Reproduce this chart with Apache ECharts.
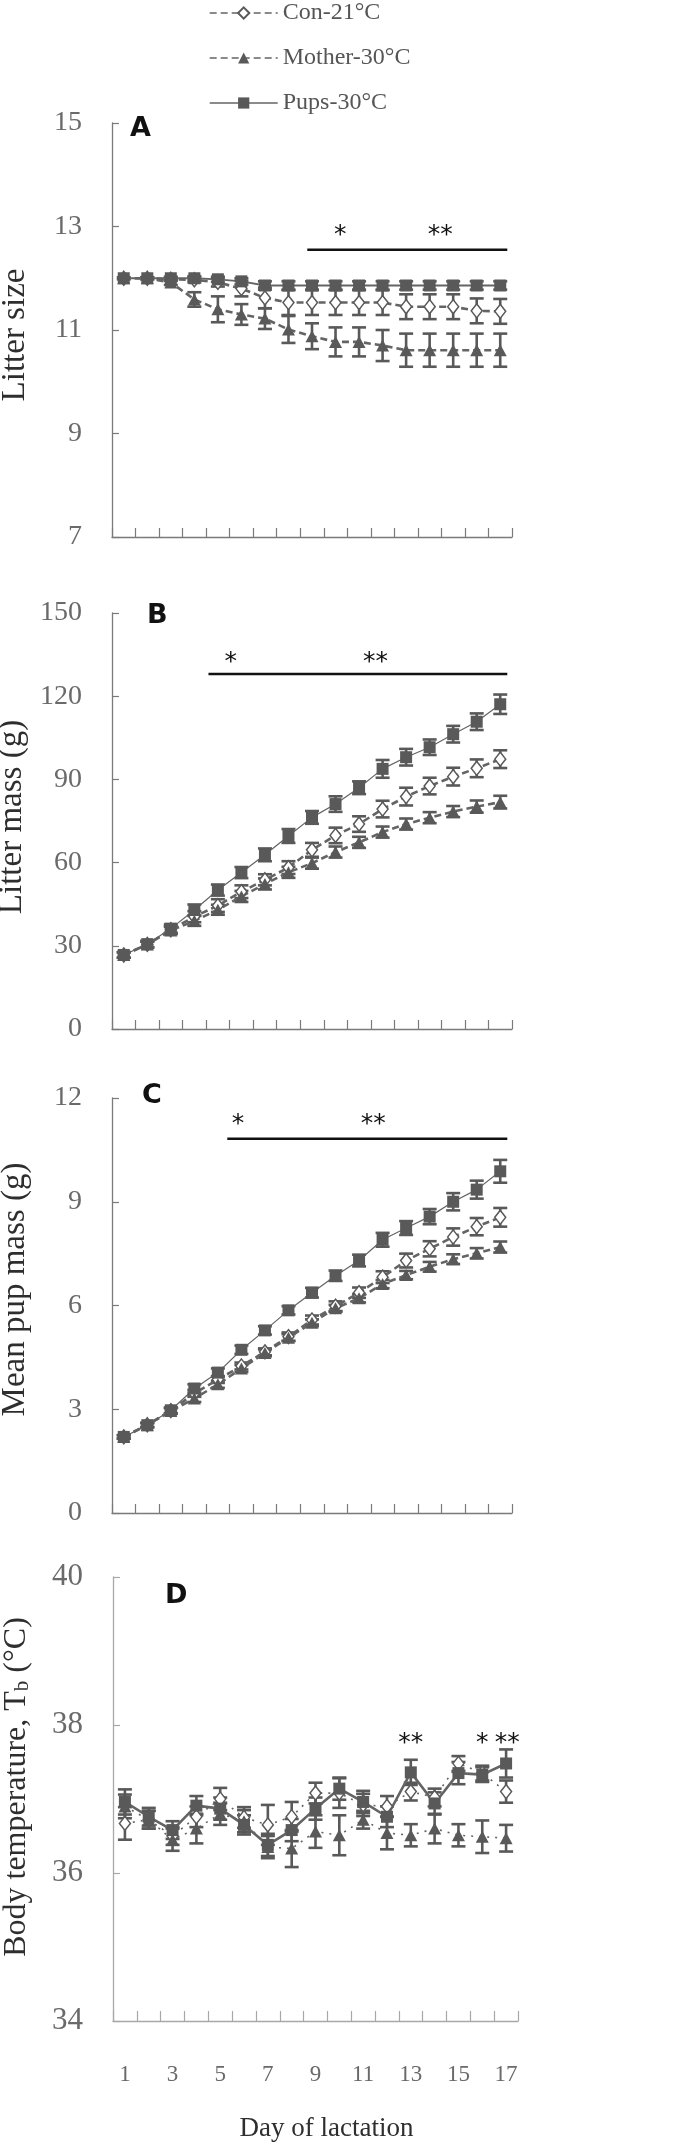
<!DOCTYPE html>
<html><head><meta charset="utf-8">
<script src="https://cdn.jsdelivr.net/npm/echarts@6/dist/echarts.min.js"></script>
<style>html,body{margin:0;padding:0;background:#fff}#c{width:675px;height:2151px}</style>
</head><body><div id="c"></div>
<script>
// ---------- data ----------
const days = ['1','2','3','4','5','6','7','8','9','10','11','12','13','14','15','16','17'];
const seriesNames = ['Con-21°C', 'Mother-30°C', 'Pups-30°C'];

// A: Litter size
const litterSizeCon      = [12.00,12.00,11.98,11.97,11.92,11.80,11.62,11.53,11.53,11.53,11.53,11.53,11.45,11.45,11.45,11.37,11.36];
const litterSizeConSE    = [0,0,0.03,0.05,0.08,0.15,0.20,0.24,0.24,0.24,0.24,0.24,0.24,0.24,0.24,0.24,0.24];
const litterSizeMother   = [12.00,12.00,11.92,11.59,11.40,11.30,11.22,11.01,10.88,10.77,10.77,10.70,10.61,10.61,10.61,10.61,10.61];
const litterSizeMotherSE = [0,0.02,0.05,0.14,0.25,0.20,0.20,0.26,0.25,0.28,0.28,0.30,0.32,0.32,0.32,0.32,0.32];
const litterSizePups     = [12.00,12.00,12.00,12.00,11.98,11.94,11.86,11.86,11.86,11.86,11.86,11.86,11.86,11.86,11.86,11.86,11.86];
const litterSizePupsSE   = [0.02,0.02,0.03,0.04,0.05,0.06,0.08,0.08,0.08,0.08,0.08,0.08,0.08,0.08,0.08,0.08,0.08];

// B: Litter mass (g)
const litterMassCon      = [26.7,30.5,35.8,40.5,44.5,49.5,53.8,58.2,64.6,69.8,73.9,79.3,83.8,87.6,91.0,94.0,97.3];
const litterMassConSE    = [1.0,1.0,1.3,2.0,2.3,2.3,2.0,2.3,2.5,2.8,2.8,3.0,3.2,3.0,3.2,3.2,3.2];
const litterMassMother   = [26.7,30.5,35.5,39.0,43.0,47.8,52.3,56.5,59.8,63.8,67.3,71.0,73.9,76.2,78.4,80.2,81.8];
const litterMassMotherSE = [1.0,1.0,1.3,1.8,1.8,2.0,2.0,2.0,2.0,2.0,2.0,2.0,2.0,2.0,2.0,2.2,2.3];
const litterMassPups     = [26.7,30.6,36.2,42.9,50.1,56.4,62.8,69.6,76.3,81.1,87.0,93.8,98.0,101.6,106.3,110.8,117.1];
const litterMassPupsSE   = [1.0,1.2,1.5,2.0,2.0,2.0,2.3,2.5,2.3,2.8,2.3,3.2,3.0,2.8,3.0,3.0,3.5];

// C: Mean pup mass (g)
const pupMassCon      = [2.20,2.55,2.96,3.46,3.86,4.25,4.66,5.10,5.58,5.98,6.37,6.82,7.30,7.64,7.98,8.28,8.55];
const pupMassConSE    = [0.05,0.06,0.08,0.10,0.10,0.10,0.10,0.12,0.13,0.14,0.15,0.17,0.20,0.22,0.25,0.25,0.27];
const pupMassMother   = [2.20,2.54,2.95,3.31,3.72,4.18,4.63,5.07,5.50,5.92,6.21,6.62,6.88,7.12,7.34,7.51,7.69];
const pupMassMotherSE = [0.05,0.06,0.08,0.10,0.10,0.10,0.10,0.10,0.10,0.10,0.12,0.12,0.12,0.14,0.14,0.15,0.16];
const pupMassPups     = [2.20,2.54,2.97,3.60,4.06,4.72,5.28,5.86,6.37,6.86,7.30,7.90,8.24,8.57,9.00,9.35,9.88];
const pupMassPupsSE   = [0.05,0.06,0.08,0.12,0.12,0.12,0.12,0.12,0.14,0.15,0.17,0.20,0.20,0.22,0.25,0.26,0.33];

// D: Body temperature (°C)
const tbCon      = [36.67,36.72,36.50,36.76,37.00,36.75,36.65,36.76,37.08,37.08,36.92,36.90,37.10,37.02,37.48,37.35,37.10];
const tbConSE    = [0.22,0.12,0.12,0.14,0.15,0.14,0.27,0.20,0.14,0.20,0.15,0.14,0.12,0.12,0.10,0.10,0.15];
const tbMother   = [36.90,36.72,36.45,36.60,36.80,36.70,36.35,36.33,36.56,36.51,36.72,36.54,36.51,36.60,36.51,36.49,36.47];
const tbMotherSE = [0.16,0.12,0.15,0.20,0.15,0.15,0.15,0.25,0.22,0.27,0.12,0.22,0.15,0.20,0.15,0.22,0.18];
const tbPups     = [36.96,36.76,36.58,36.91,36.87,36.65,36.38,36.58,36.87,37.14,36.96,36.76,37.36,36.94,37.35,37.33,37.48];
const tbPupsSE   = [0.17,0.12,0.12,0.13,0.15,0.13,0.15,0.15,0.15,0.15,0.15,0.14,0.17,0.15,0.15,0.10,0.19];

// significance annotations: bars [fromIndex, toIndex, y], stars [index, y, count]
const sigBarsA  = [[7.8, 16.3, 12.55]];
const sigStarsA = [[9.2, 12.93, 1], [13.45, 12.93, 2]];
const sigBarsB  = [[3.6, 16.3, 128.0]];
const sigStarsB = [[4.55, 133.8, 1], [10.7, 133.8, 2]];
const sigBarsC  = [[4.4, 16.3, 10.82]];
const sigStarsC = [[4.85, 11.37, 1], [10.6, 11.37, 2]];
const sigStarsD = [[12.0, 37.82, 2], [15.0, 37.82, 1], [16.05, 37.82, 2]];

// y-axis tick settings
const yRangeA = [7, 15, 2];
const yRangeB = [0, 150, 30];
const yRangeC = [0, 12, 3];
const yRangeD = [34, 40, 2];

// ---------- styling ----------
const MARK = '#595959';
const LINEC = '#646464';
const SERIF = 'Liberation Serif';
const SANS = 'DejaVu Sans';

const grids = [
  {left: 112, top: 123, width: 400, height: 414, outerBoundsMode: 'none'},
  {left: 112, top: 613, width: 400, height: 416, outerBoundsMode: 'none'},
  {left: 112, top: 1098, width: 400, height: 415, outerBoundsMode: 'none'},
  {left: 113, top: 1577, width: 405, height: 444, outerBoundsMode: 'none'}
];

function xAx(gi) {
  const isD = gi === 3;
  const axc = isD ? '#a8a8a8' : '#7a7a7a';
  return {
    type: 'category', gridIndex: gi, data: days, boundaryGap: true,
    axisLine: {show: true, lineStyle: {color: axc, width: 1.3}},
    axisTick: {show: true, inside: true, length: isD ? 10 : 9, interval: 0, lineStyle: {color: axc, width: 1.2}},
    axisLabel: isD ? {show: true, interval: 1, margin: 42, fontFamily: SERIF, fontSize: 23, color: '#6a6a6a'} : {show: false},
    splitLine: {show: false},
    name: isD ? 'Day of lactation' : '',
    nameLocation: 'middle', nameGap: 94,
    nameTextStyle: {fontFamily: SERIF, fontSize: 27, color: '#2e2e2e', padding: [0, 0, 0, 22]}
  };
}

function yAx(gi, range, name, pad, rich) {
  const isD = gi === 3;
  const axc = isD ? '#a8a8a8' : '#7a7a7a';
  return {
    type: 'value', gridIndex: gi, min: range[0], max: range[1], interval: range[2],
    axisLine: {show: true, lineStyle: {color: axc, width: 1.3}},
    axisTick: {show: true, inside: true, length: 7, lineStyle: {color: axc, width: 1.2}},
    axisLabel: {margin: 30, fontFamily: SERIF, fontSize: isD ? 31 : 28, color: '#6a6a6a'},
    splitLine: {show: false},
    name: name, nameLocation: 'middle', nameRotate: 90, nameGap: 80,
    nameTextStyle: Object.assign({fontFamily: SERIF, fontSize: isD ? 32 : 33, color: '#2e2e2e', padding: pad}, rich ? {rich: rich} : {})
  };
}

function lineSeries(name, gi, data, kind) {
  const isD = gi === 3;
  const s = {name: name, type: 'line', xAxisIndex: gi, yAxisIndex: gi, data: data, z: 4,
    silent: true, animation: false, showAllSymbol: true};
  if (kind === 'con') {
    s.symbol = 'diamond'; s.symbolSize = [11, 14];
    s.itemStyle = {color: '#ffffff', borderColor: MARK, borderWidth: 1.5};
    s.lineStyle = {color: LINEC, width: isD ? 1.6 : 2.6, type: isD ? [2, 6] : [7, 4]};
  } else if (kind === 'mother') {
    s.symbol = 'triangle'; s.symbolSize = [13, 12];
    s.itemStyle = {color: MARK, borderWidth: 0};
    s.lineStyle = {color: LINEC, width: isD ? 1.6 : 2.6, type: isD ? [2, 6] : [7, 4]};
  } else {
    s.symbol = 'rect'; s.symbolSize = [12, 12];
    s.itemStyle = {color: MARK, borderWidth: 0};
    s.lineStyle = {color: LINEC, width: isD ? 2.6 : (gi === 0 ? 1.8 : 1.2), type: 'solid'};
  }
  return s;
}

function errSeries(gi, mean, se) {
  return {
    type: 'custom', xAxisIndex: gi, yAxisIndex: gi, z: 3, silent: true, animation: false,
    data: mean.map(function (m, i) { return [i, m - se[i], m + se[i]]; }),
    encode: {x: 0, y: [1, 2]},
    renderItem: function (params, api) {
      const x = api.value(0), lo = api.value(1), hi = api.value(2);
      if (hi - lo < 1e-9) return null;
      const p1 = api.coord([x, hi]), p2 = api.coord([x, lo]);
      const hw = 7;
      const st = {stroke: MARK, lineWidth: 2.6, fill: null};
      return {type: 'group', children: [
        {type: 'line', shape: {x1: p1[0], y1: p1[1], x2: p2[0], y2: p2[1]}, style: st},
        {type: 'line', shape: {x1: p1[0] - hw, y1: p1[1], x2: p1[0] + hw, y2: p1[1]}, style: st},
        {type: 'line', shape: {x1: p2[0] - hw, y1: p2[1], x2: p2[0] + hw, y2: p2[1]}, style: st}
      ]};
    }
  };
}

function barSeries(gi, bars) {
  return {
    type: 'custom', xAxisIndex: gi, yAxisIndex: gi, z: 5, silent: true, animation: false,
    data: bars, encode: {x: [0, 1], y: 2},
    renderItem: function (params, api) {
      const y = api.value(2);
      const base = api.coord([0, y]);
      const band = api.size([1, 0])[0];
      const xa = base[0] + api.value(0) * band, xb = base[0] + api.value(1) * band;
      return {type: 'line', shape: {x1: xa, y1: base[1], x2: xb, y2: base[1]},
        style: {stroke: '#111', lineWidth: 2.6}};
    }
  };
}

function starSeries(gi, stars) {
  return {
    type: 'custom', xAxisIndex: gi, yAxisIndex: gi, z: 5, silent: true, animation: false,
    data: stars, encode: {x: 0, y: 1},
    renderItem: function (params, api) {
      const base = api.coord([0, api.value(1)]);
      const band = api.size([1, 0])[0];
      const x = base[0] + api.value(0) * band;
      const txt = api.value(2) === 2 ? '**' : '*';
      return {type: 'text', x: x, y: base[1] + 5,
        style: {text: txt, fill: '#111', fontSize: 25, fontFamily: SANS,
          align: 'center', verticalAlign: 'middle', textAlign: 'center', textVerticalAlign: 'middle'}};
    }
  };
}

const panels = [
  [litterSizeCon, litterSizeConSE, litterSizeMother, litterSizeMotherSE, litterSizePups, litterSizePupsSE],
  [litterMassCon, litterMassConSE, litterMassMother, litterMassMotherSE, litterMassPups, litterMassPupsSE],
  [pupMassCon, pupMassConSE, pupMassMother, pupMassMotherSE, pupMassPups, pupMassPupsSE],
  [tbCon, tbConSE, tbMother, tbMotherSE, tbPups, tbPupsSE]
];

const series = [];
panels.forEach(function (p, gi) {
  series.push(errSeries(gi, p[0], p[1]));
  series.push(errSeries(gi, p[2], p[3]));
  series.push(errSeries(gi, p[4], p[5]));
  series.push(lineSeries(seriesNames[0], gi, p[0], 'con'));
  series.push(lineSeries(seriesNames[1], gi, p[2], 'mother'));
  series.push(lineSeries(seriesNames[2], gi, p[4], 'pups'));
});
series.push(barSeries(0, sigBarsA), starSeries(0, sigStarsA));
series.push(barSeries(1, sigBarsB), starSeries(1, sigStarsB));
series.push(barSeries(2, sigBarsC), starSeries(2, sigStarsC));
series.push(starSeries(3, sigStarsD));

const letterStyle = {fontFamily: SANS, fontSize: 27, fontWeight: 'bold', fill: '#111'};
const option = {
  animation: false,
  backgroundColor: '#ffffff',
  grid: grids,
  xAxis: [xAx(0), xAx(1), xAx(2), xAx(3)],
  yAxis: [
    yAx(0, yRangeA, 'Litter size', [0, 10, 0, 0]),
    yAx(1, yRangeB, 'Litter mass (g)', [0, 0, 0, 8]),
    yAx(2, yRangeC, 'Mean pup mass (g)', [0, 0, 0, 32]),
    yAx(3, yRangeD, 'Body temperature, T{sub|b} (°C)', [0, 0, 0, 24],
      {sub: {fontFamily: SERIF, fontSize: 21, color: '#2e2e2e', verticalAlign: 'bottom'}})
  ],
  legend: {
    show: true, orient: 'vertical', left: 204, top: -5,
    itemWidth: 68, itemHeight: 14, itemGap: 19,
    selectedMode: false,
    data: seriesNames,
    lineStyle: {width: 1.4},
    textStyle: {fontFamily: SERIF, fontSize: 24, color: '#555', lineHeight: 26}
  },
  graphic: [
    {type: 'text', left: 130, top: 115, style: Object.assign({text: 'A'}, letterStyle)},
    {type: 'text', left: 147, top: 602, style: Object.assign({text: 'B'}, letterStyle)},
    {type: 'text', left: 142, top: 1082, style: Object.assign({text: 'C'}, letterStyle)},
    {type: 'text', left: 165, top: 1582, style: Object.assign({text: 'D'}, letterStyle)}
  ],
  series: series
};

const chart = echarts.init(document.getElementById('c'), null, {renderer: 'canvas'});
chart.setOption(option);
</script>
</body></html>
